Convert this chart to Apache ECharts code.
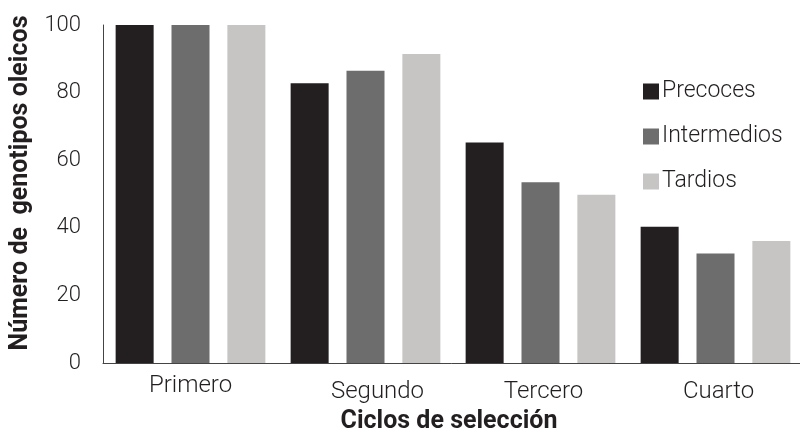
<!DOCTYPE html>
<html>
<head>
<meta charset="utf-8">
<script src="https://cdn.jsdelivr.net/npm/echarts@6/dist/echarts.min.js"></script>
<style>html,body{margin:0;padding:0;background:#fff;}#c{width:800px;height:433px;}</style>
</head>
<body>
<div id="c"></div>
<script>
const categories = ['Primero', 'Segundo', 'Tercero', 'Cuarto'];
const seriesNames = ['Precoces', 'Intermedios', 'Tardios'];
const precoces = [100, 82.8, 65.2, 40.3];
const intermedios = [100, 86.5, 53.5, 32.4];
const tardios = [100, 91.4, 49.8, 36.1];
const yTicks = [0, 20, 40, 60, 80, 100];

const colors = ['#231f20', '#6d6d6d', '#c6c5c4'];
const font = 'Roboto';
const labelPad = {
  Primero: [0, 0, 0, 0],
  Segundo: [6, 0, 0, 24],
  Tercero: [6, 0, 0, 6],
  Cuarto: [6, 0, 0, 6]
};

const chart = echarts.init(document.getElementById('c'), null, {renderer: 'canvas'});
chart.setOption({
  animation: false,
  color: colors,
  grid: {left: 103, right: -3, top: 25, bottom: 70, containLabel: false, outerBoundsMode: 'none'},
  legend: {
    data: seriesNames,
    orient: 'vertical',
    left: 638,
    top: 75,
    itemWidth: 16,
    itemHeight: 16,
    itemGap: 22,
    itemStyle: {borderWidth: 0},
    icon: 'rect',
    textStyle: {fontFamily: font, fontSize: 23, fontWeight: 300, color: '#231f20', padding: [0, 0, 0, -2]}
  },
  xAxis: {
    type: 'category',
    data: categories.map(c => ({value: c, textStyle: {padding: labelPad[c]}})),
    axisLine: {show: true, lineStyle: {color: '#444', width: 1}},
    axisTick: {show: false},
    axisLabel: {fontFamily: font, fontSize: 24, fontWeight: 300, color: '#231f20', margin: 11},
    name: 'Ciclos de selección',
    nameLocation: 'middle',
    nameGap: 46,
    nameTextStyle: {fontFamily: font, fontSize: 25, fontWeight: 'bold', color: '#231f20', padding: [0, 8, 0, 0]}
  },
  yAxis: {
    type: 'value',
    min: yTicks[0],
    max: yTicks[yTicks.length - 1],
    interval: 20,
    axisLine: {show: true, lineStyle: {color: '#444', width: 1}},
    axisTick: {show: false},
    splitLine: {show: false},
    axisLabel: {fontFamily: font, fontSize: 22, fontWeight: 300, color: '#231f20', margin: 22},
    name: 'Número de  genotipos oleicos',
    nameLocation: 'middle',
    nameGap: 70,
    nameTextStyle: {fontFamily: font, fontSize: 25, fontWeight: 'bold', color: '#231f20', padding: [0, 0, 0, 22]}
  },
  series: [
    {name: seriesNames[0], type: 'bar', data: precoces, barWidth: 38, barGap: '47%'},
    {name: seriesNames[1], type: 'bar', data: intermedios, barWidth: 38, barGap: '47%'},
    {name: seriesNames[2], type: 'bar', data: tardios, barWidth: 38, barGap: '47%'}
  ]
});
</script>
</body>
</html>
